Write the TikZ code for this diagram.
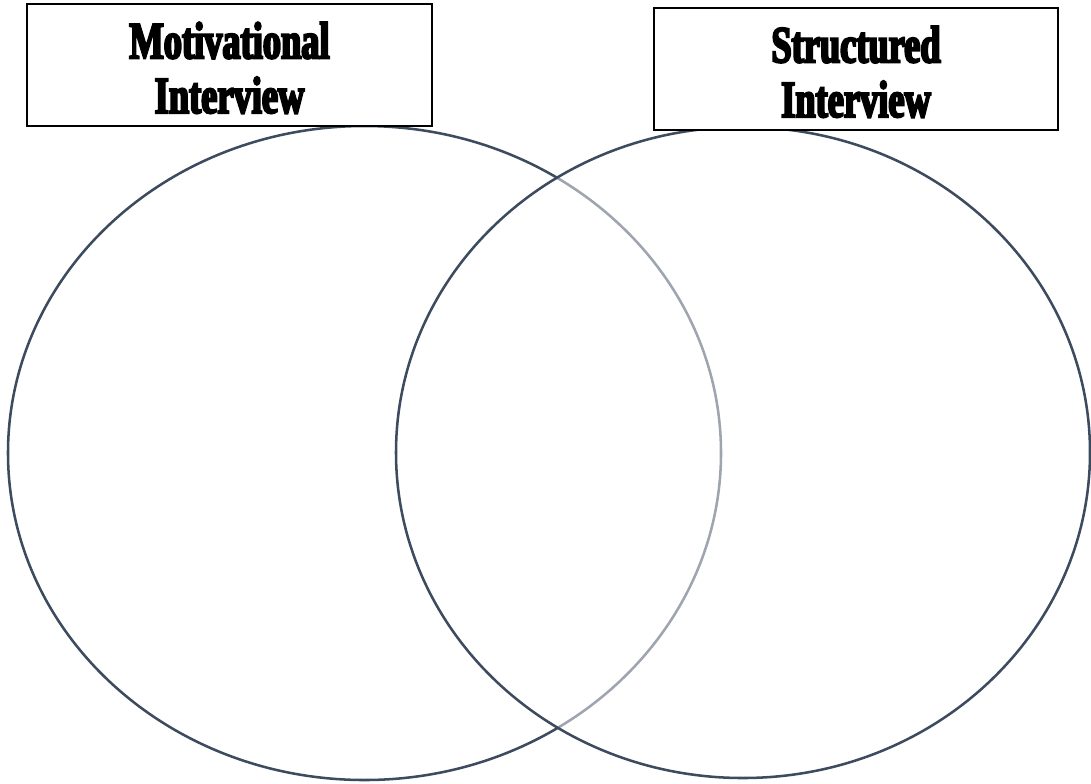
\documentclass[tikz,border=0pt]{standalone}
\usepackage{fontspec}
\usetikzlibrary{shapes.geometric}
\newfontfamily\titlefont[FakeStretch=0.7,FakeBold=4]{Liberation Serif Bold}
\definecolor{ringcol}{HTML}{3D4B5F}
\tikzset{
  ring/.style={ellipse, draw=ringcol, line width=1.9pt, inner sep=0pt},
  titlebox/.style={draw=black, line width=1.4pt, fill=white, inner sep=0pt},
  titletext/.style={font=\titlefont\fontsize{39}{41}\selectfont, align=center, inner sep=0pt}
}
\begin{document}
\begin{tikzpicture}[x=0.75pt,y=-0.75pt]
\useasboundingbox (0,0) rectangle (1091,783);
\node[ring, minimum width=534.75pt, minimum height=490.5pt] (left) at (364.5,453) {};
\node[ring, fill=white, fill opacity=0.5, draw opacity=1, minimum width=520.5pt, minimum height=488.25pt] (right) at (743,452.5) {};
\node[titlebox, minimum width=303.75pt, minimum height=91.5pt] (lbox) at (229.5,65) {};
\node[titlebox, minimum width=303pt, minimum height=91.5pt] (rbox) at (856,69) {};
\node[titletext, anchor=base] (ltxt) at (229.5,113) {Motivational\\Interview};
\node[titletext, anchor=base] (rtxt) at (856,117) {Structured\\Interview};
\end{tikzpicture}
\end{document}
